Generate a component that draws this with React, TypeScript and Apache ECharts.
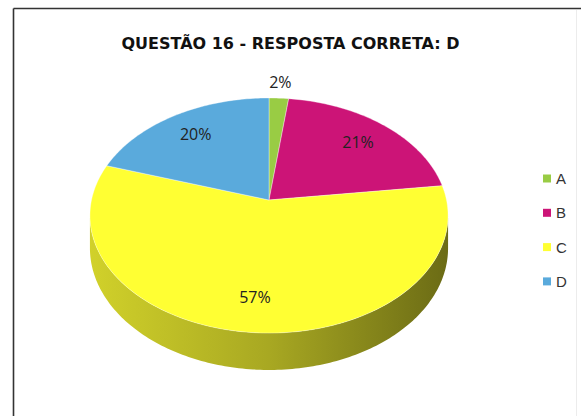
import React, { useEffect, useRef } from "react";
import * as echarts from "echarts";

// ---- data ----
const categories = ["A", "B", "C", "D"];
const percentages = [2, 21, 57, 20];
const sliceColors = ["#99CC44", "#CC1477", "#FFFF33", "#5AAADC"];
const titleText = "QUESTÃO 16 - RESPOSTA CORRETA: D";

// ---- 3D projection settings (layout, not data) ----
const CX = 269;
const CY = 200;
const RX = 177.5;
const RY = 115.5;
const K = 0.132;
const DEPTH = 32;
const LABEL_RHO = 0.76;
const OUTSIDE_RHO = 1.18;

function proj(phiDeg: number, rho: number, drop: number): number[] {
  const a = (phiDeg * Math.PI) / 180;
  const x = rho * Math.sin(a);
  const z = -rho * Math.cos(a);
  const f = 1 / (1 - K * z);
  return [CX + RX * x * f, CY + RY * z * f + drop * f];
}

function shade(hex: string, factor: number): string {
  const n = parseInt(hex.slice(1), 16);
  const r = Math.round(((n >> 16) & 255) * factor);
  const g = Math.round(((n >> 8) & 255) * factor);
  const b = Math.round((n & 255) * factor);
  return `rgb(${r},${g},${b})`;
}

const VIS0 = (Math.acos(-K) * 180) / Math.PI;
const VIS1 = 360 - VIS0;

export default function App() {
  const ref = useRef<HTMLDivElement>(null);
  useEffect(() => {
    if (!ref.current) return;
    const chart = echarts.init(ref.current, undefined, { renderer: "svg" });
    const total = percentages.reduce((s, v) => s + v, 0);
    const starts: number[] = [];
    let acc = 0;
    percentages.forEach((v) => {
      starts.push((acc / total) * 360);
      acc += v;
    });

    const series = categories.map((name, i) => {
      const a0 = starts[i];
      const a1 = a0 + (percentages[i] / total) * 360;
      const color = sliceColors[i];
      return {
        type: "custom",
        name,
        coordinateSystem: "none",
        silent: true,
        itemStyle: { color },
        data: [[percentages[i]]],
        renderItem: (params: any, api: any) => {
          const value = api.value(0);
          const children: any[] = [];
          const v0 = Math.max(a0, VIS0);
          const v1 = Math.min(a1, VIS1);
          if (v1 > v0) {
            const top: number[][] = [];
            const bottom: number[][] = [];
            const steps = Math.max(2, Math.ceil(v1 - v0));
            for (let s = 0; s <= steps; s++) {
              const phi = v0 + ((v1 - v0) * s) / steps;
              top.push(proj(phi, 1, 0));
              bottom.push(proj(phi, 1, DEPTH));
            }
            children.push({
              type: "polygon",
              shape: { points: top.concat(bottom.reverse()) },
              style: {
                fill: new echarts.graphic.LinearGradient(0, 0, 1, 0, [
                  { offset: 0, color: shade(color, 0.82) },
                  { offset: 0.5, color: shade(color, 0.66) },
                  { offset: 1, color: shade(color, 0.42) },
                ]),
              },
            });
          }
          const pts: number[][] = [[CX, CY]];
          const steps = Math.max(2, Math.ceil(a1 - a0));
          for (let s = 0; s <= steps; s++) {
            pts.push(proj(a0 + ((a1 - a0) * s) / steps, 1, 0));
          }
          children.push({
            type: "polygon",
            shape: { points: pts },
            style: { fill: color, stroke: "rgba(255,255,255,0.6)", lineWidth: 0.6 },
          });
          const mid = (a0 + a1) / 2;
          const rho = value < 5 ? OUTSIDE_RHO : LABEL_RHO;
          const lp = proj(mid, rho, 0);
          children.push({
            type: "text",
            x: lp[0],
            y: lp[1],
            style: {
              text: `${value}%`,
              align: "center",
              verticalAlign: "middle",
              fill: "#222",
              font: '16px "Open Sans"',
            },
          });
          return { type: "group", children };
        },
      };
    });

    chart.setOption({
      animation: false,
      backgroundColor: "#ffffff",
      title: {
        text: titleText,
        left: "center",
        top: 30,
        textStyle: {
          fontFamily: "DejaVu Sans",
          fontWeight: "bold",
          fontSize: 16,
          color: "#111",
        },
      },
      legend: {
        orient: "vertical",
        left: 538,
        top: 166,
        itemWidth: 8,
        itemHeight: 8,
        itemGap: 19.3,
        icon: "rect",
        data: categories,
        selectedMode: false,
        textStyle: { fontFamily: "Liberation Sans", fontSize: 15, color: "#333" },
      },
      graphic: [
        { type: "line", shape: { x1: 13.5, y1: 8.5, x2: 581, y2: 8.5 }, style: { stroke: "#333", lineWidth: 1.6 } },
        { type: "line", shape: { x1: 13.5, y1: 8.5, x2: 13.5, y2: 416 }, style: { stroke: "#333", lineWidth: 1.6 } },
        { type: "line", shape: { x1: 576.5, y1: 10, x2: 576.5, y2: 416 }, style: { stroke: "#ececec", lineWidth: 1 } },
      ],
      series,
    });
    return () => chart.dispose();
  }, []);
  return (
    <div
      ref={ref}
      style={{ position: "absolute", left: 0, top: 0, width: 581, height: 416 }}
    />
  );
}
